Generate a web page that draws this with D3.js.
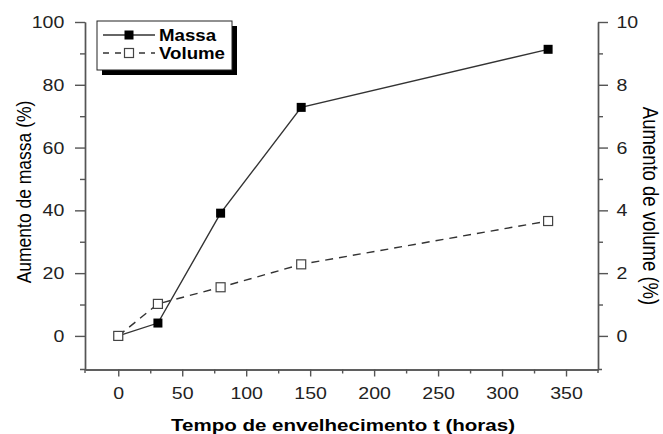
<!DOCTYPE html>
<html>
<head>
<meta charset="utf-8">
<script src="https://cdn.jsdelivr.net/npm/d3@7"></script>
<style>
  body { margin: 0; background: #fff; }
  svg { display: block; font-family: "Liberation Sans", Arial, sans-serif; }
</style>
</head>
<body>
<svg width="663" height="434"></svg>
<script>
// data
const hours = [0, 31, 80, 143, 336];
const massa = [0, 4.1, 39.1, 72.8, 91.3];
const volume = [0, 1.02, 1.55, 2.28, 3.66];

const xTicks = [0, 50, 100, 150, 200, 250, 300, 350];
const xMinor = [25, 75, 125, 175, 225, 275, 325];
const yLeftTicks = [0, 20, 40, 60, 80, 100];
const yLeftMinor = [10, 30, 50, 70, 90];
const yRightTicks = [0, 2, 4, 6, 8, 10];
const yRightMinor = [1, 3, 5, 7, 9];

const svg = d3.select("svg");
const stretch = 1.15;
const axisColor = "#555";

// scales
const x = d3.scaleLinear().domain([-26, 375]).range([85, 598]);
const yL = d3.scaleLinear().domain([-10.7, 100]).range([369.5, 22]);
const yR = d3.scaleLinear().domain([-1.07, 10]).range([369.5, 22]);

function styleAxis(g) {
    g.selectAll("path, line").attr("stroke", axisColor).attr("stroke-width", 1.4);
    g.selectAll("text")
        .attr("fill", "#222")
        .style("font-size", "17px")
        .style("font-family", "'Liberation Sans', Arial, sans-serif");
}

// bottom axis
svg.append("g")
    .attr("transform", "translate(0,369.5)")
    .call(d3.axisBottom(x).tickValues(xMinor).tickSize(4).tickSizeOuter(0).tickFormat(""))
    .call(styleAxis);
const gx = svg.append("g")
    .attr("transform", "translate(0,369.5)")
    .call(d3.axisBottom(x).tickValues(xTicks).tickSize(7).tickPadding(10).tickSizeOuter(0))
    .call(styleAxis);
gx.selectAll("text").attr("transform", "scale(" + stretch + ",1)");

// left axis
svg.append("g")
    .attr("transform", "translate(85,0)")
    .call(d3.axisLeft(yL).tickValues(yLeftMinor).tickSize(5).tickSizeOuter(0).tickFormat(""))
    .call(styleAxis);
const gl = svg.append("g")
    .attr("transform", "translate(85,0)")
    .call(d3.axisLeft(yL).tickValues(yLeftTicks).tickSize(10).tickPadding(8).tickSizeOuter(0))
    .call(styleAxis);
gl.selectAll("text").attr("transform", "scale(" + stretch + ",1)");

// right axis
svg.append("g")
    .attr("transform", "translate(598,0)")
    .call(d3.axisRight(yR).tickValues(yRightMinor).tickSize(5).tickSizeOuter(0).tickFormat(""))
    .call(styleAxis);
const gr = svg.append("g")
    .attr("transform", "translate(598,0)")
    .call(d3.axisRight(yR).tickValues(yRightTicks).tickSize(10).tickPadding(6).tickSizeOuter(0))
    .call(styleAxis);
gr.selectAll("text").attr("transform", "scale(" + stretch + ",1)");

// little overhangs at the axis corners
svg.append("path")
    .attr("d", "M80,369.5H85M598,369.5H602M85,369.5V373M598,369.5V373")
    .attr("stroke", axisColor).attr("stroke-width", 1.4);

// axis titles
svg.append("text")
    .attr("x", 343).attr("y", 431)
    .attr("text-anchor", "middle")
    .attr("textLength", 344).attr("lengthAdjust", "spacingAndGlyphs")
    .style("font-size", "16px").style("font-weight", "bold")
    .text("Tempo de envelhecimento t (horas)");

svg.append("text")
    .attr("transform", "translate(31,192) scale(" + stretch + ",1) rotate(-90)")
    .attr("text-anchor", "middle")
    .style("font-size", "17.5px")
    .text("Aumento de massa (%)");

svg.append("text")
    .attr("transform", "translate(643,206) scale(" + stretch + ",1) rotate(90)")
    .attr("text-anchor", "middle")
    .style("font-size", "18.5px")
    .text("Aumento de volume (%)");

// lines
const massaLine = d3.line().x((d, i) => x(hours[i])).y(d => yL(d));
const volumeLine = d3.line().x((d, i) => x(hours[i])).y(d => yR(d));

svg.append("path")
    .datum(massa)
    .attr("d", massaLine)
    .attr("fill", "none")
    .attr("stroke", "#333")
    .attr("stroke-width", 1.4);

svg.append("path")
    .datum(volume)
    .attr("d", volumeLine)
    .attr("fill", "none")
    .attr("stroke", "#333")
    .attr("stroke-width", 1.4)
    .attr("stroke-dasharray", "8,6");

const m = 9;
svg.selectAll(".m-massa")
    .data(massa)
    .enter()
    .append("rect")
    .attr("x", (d, i) => x(hours[i]) - m / 2)
    .attr("y", d => yL(d) - m / 2)
    .attr("width", m).attr("height", m)
    .attr("fill", "#000");

svg.selectAll(".m-volume")
    .data(volume)
    .enter()
    .append("rect")
    .attr("x", (d, i) => x(hours[i]) - m / 2)
    .attr("y", d => yR(d) - m / 2)
    .attr("width", m).attr("height", m)
    .attr("fill", "#fff")
    .attr("stroke", "#444")
    .attr("stroke-width", 1.2);

// legend
const leg = svg.append("g");
leg.append("rect")
    .attr("x", 102).attr("y", 26).attr("width", 135).attr("height", 49)
    .attr("fill", "#000");
leg.append("rect")
    .attr("x", 97).attr("y", 21).attr("width", 135).attr("height", 49)
    .attr("fill", "#fff").attr("stroke", "#222").attr("stroke-width", 1);

leg.append("line")
    .attr("x1", 103).attr("x2", 155).attr("y1", 35).attr("y2", 35)
    .attr("stroke", "#333").attr("stroke-width", 1.4);
leg.append("rect")
    .attr("x", 129 - m / 2).attr("y", 35 - m / 2).attr("width", m).attr("height", m)
    .attr("fill", "#000");
leg.append("line")
    .attr("x1", 103).attr("x2", 155).attr("y1", 53).attr("y2", 53)
    .attr("stroke", "#333").attr("stroke-width", 1.4)
    .attr("stroke-dasharray", "6,6");
leg.append("rect")
    .attr("x", 129 - m / 2).attr("y", 53 - m / 2).attr("width", m).attr("height", m)
    .attr("fill", "#fff").attr("stroke", "#444").attr("stroke-width", 1.2);

leg.append("text")
    .attr("x", 159).attr("y", 40.5)
    .attr("textLength", 57).attr("lengthAdjust", "spacingAndGlyphs")
    .style("font-size", "16px").style("font-weight", "bold")
    .text("Massa");
leg.append("text")
    .attr("x", 159).attr("y", 58.5)
    .attr("textLength", 66).attr("lengthAdjust", "spacingAndGlyphs")
    .style("font-size", "16px").style("font-weight", "bold")
    .text("Volume");
</script>
</body>
</html>
